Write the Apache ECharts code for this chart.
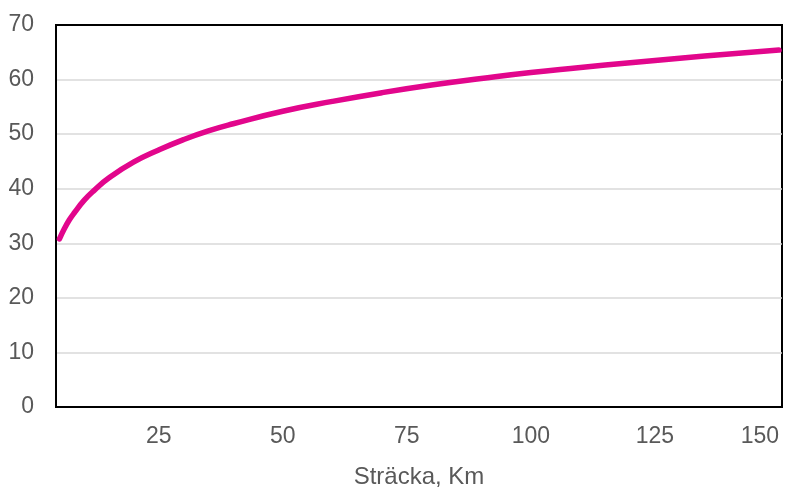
<!DOCTYPE html>
<html>
<head>
<meta charset="utf-8">
<script src="https://cdn.jsdelivr.net/npm/echarts@6/dist/echarts.min.js"></script>
<style>
  html, body { margin: 0; padding: 0; background: #fff; }
  #chart { width: 787px; height: 489px; }
</style>
</head>
<body>
<div id="chart"></div>
<script>
// Distance along the route (km) and the matching values on the curve
const distanceKm = [5, 6, 7, 8, 10, 12, 15, 20, 25, 30, 35, 40, 50, 60, 70, 80, 90, 100, 110, 120, 130, 140, 150];
const curveValues = [30.8, 32.7, 34.3, 35.6, 37.9, 39.7, 42.0, 44.9, 47.1, 49.0, 50.6, 51.9, 54.2, 56.0, 57.6, 59.0, 60.2, 61.3, 62.2, 63.1, 63.9, 64.7, 65.4];
const xTickLabels = [25, 50, 75, 100, 125, 150];
const xAxisTitle = 'Sträcka, Km';

const chart = echarts.init(document.getElementById('chart'), null, { renderer: 'canvas' });
const labelColor = '#595959';
const fontFamily = '"Liberation Sans", Arial, sans-serif';

chart.setOption({
  animation: false,
  grid: {
    left: 56, right: 5, top: 25, bottom: 82,
    outerBoundsMode: 'none',
    containLabel: false,
    show: true, borderColor: '#000', borderWidth: 2, backgroundColor: 'transparent'
  },
  xAxis: {
    type: 'value',
    min: 4.3,
    max: 150.6,
    name: xAxisTitle,
    nameLocation: 'middle',
    nameGap: 58,
    nameTextStyle: { color: labelColor, fontSize: 24, fontFamily },
    axisLine: { show: true, lineStyle: { color: '#000', width: 2 } },
    axisTick: { show: false },
    splitLine: { show: false },
    axisLabel: {
      customValues: xTickLabels,
      color: labelColor, fontSize: 23, fontFamily, margin: 18,
      alignMaxLabel: 'right'
    }
  },
  yAxis: {
    type: 'value',
    min: 0, max: 70, interval: 10,
    axisLine: { show: true, lineStyle: { color: '#000', width: 2 } },
    axisTick: { show: false },
    splitLine: { show: true, showMinLine: false, showMaxLine: false, lineStyle: { color: '#d9d9d9', width: 1.5 } },
    axisLabel: { color: labelColor, fontSize: 23, fontFamily, margin: 22 }
  },
  series: [{
    type: 'line',
    data: distanceKm.map((d, i) => [d, curveValues[i]]),
    smooth: true,
    showSymbol: false,
    lineStyle: { color: '#E2068C', width: 5.5, cap: 'round', join: 'round' }
  }]
});
</script>
</body>
</html>
